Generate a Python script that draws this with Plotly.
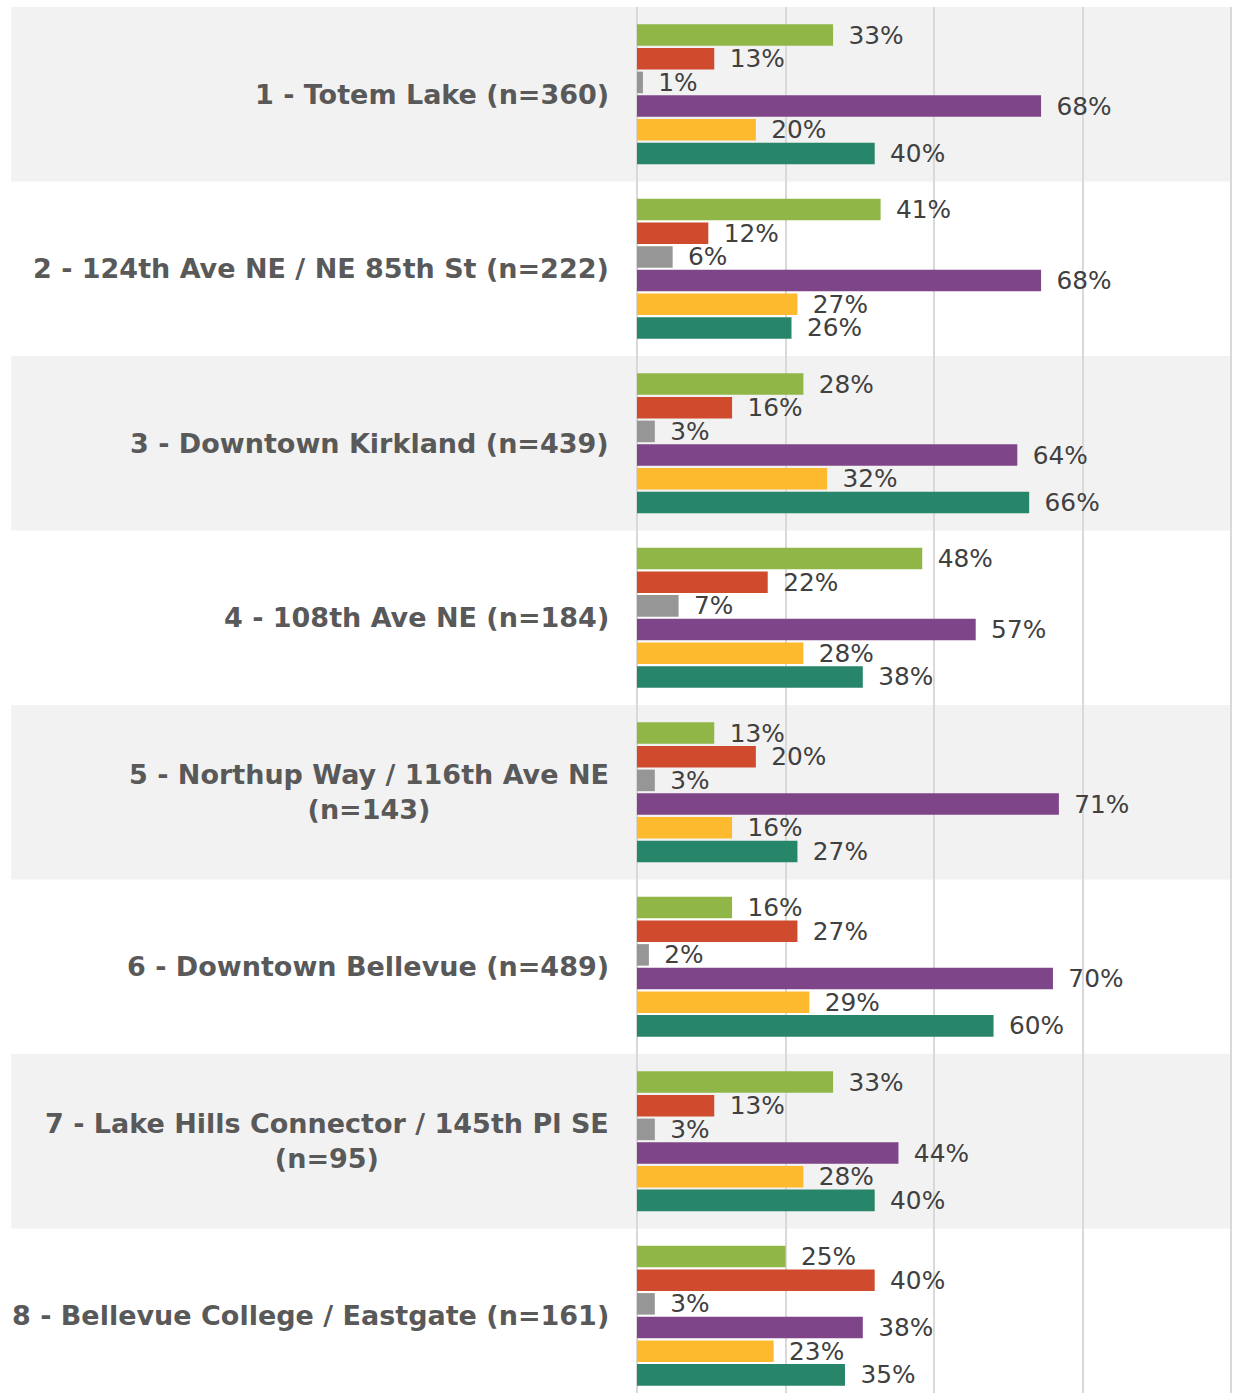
import plotly.graph_objects as go

# Categories (top to bottom)
sites = [
    "1 - Totem Lake (n=360)",
    "2 - 124th Ave NE / NE 85th St (n=222)",
    "3 - Downtown Kirkland (n=439)",
    "4 - 108th Ave NE (n=184)",
    "5 - Northup Way / 116th Ave NE<br>(n=143)",
    "6 - Downtown Bellevue (n=489)",
    "7 - Lake Hills Connector / 145th Pl SE<br>(n=95)",
    "8 - Bellevue College / Eastgate (n=161)",
]

# Series values (share of respondents)
s1 = [0.33, 0.41, 0.28, 0.48, 0.13, 0.16, 0.33, 0.25]
s2 = [0.13, 0.12, 0.16, 0.22, 0.20, 0.27, 0.13, 0.40]
s3 = [0.01, 0.06, 0.03, 0.07, 0.03, 0.02, 0.03, 0.03]
s4 = [0.68, 0.68, 0.64, 0.57, 0.71, 0.70, 0.44, 0.38]
s5 = [0.20, 0.27, 0.32, 0.28, 0.16, 0.29, 0.28, 0.23]
s6 = [0.40, 0.26, 0.66, 0.38, 0.27, 0.60, 0.40, 0.35]

series = [s1, s2, s3, s4, s5, s6]
names = ["Series 1", "Series 2", "Series 3", "Series 4", "Series 5", "Series 6"]
colors = ["#8FB646", "#D04A2D", "#969696", "#7E4689", "#FDBA2F", "#27856A"]

fig = go.Figure()

for vals, name, col in zip(series, names, colors):
    fig.add_trace(go.Bar(
        y=sites, x=vals, name=name, orientation="h",
        marker=dict(color=col, line=dict(width=0)),
        text=vals, texttemplate="\u2002%{x:.0%}",
        textposition="outside", constraintext="none", cliponaxis=False,
        textfont=dict(family="DejaVu Sans", size=24.8, color="#404040"),
    ))

# alternating background bands + category labels
for i, s in enumerate(sites):
    if i % 2 == 0:
        fig.add_shape(type="rect", xref="paper", yref="y",
                      x0=-1.05, x1=0.998, y0=i - 0.5, y1=i + 0.5,
                      fillcolor="#F2F2F2", line_width=0, layer="below")
    fig.add_annotation(x=-0.044, xref="paper", y=s, yref="y",
                       text="<b>" + s + "</b>", showarrow=False,
                       xanchor="right", align="center",
                       font=dict(family="DejaVu Sans", size=27, color="#595959"))

fig.update_layout(
    width=1235, height=1393,
    margin=dict(l=637, r=2, t=7, b=0),
    barmode="group", bargap=0.186, bargroupgap=0.09,
    plot_bgcolor="white", paper_bgcolor="white",
    showlegend=False,
    xaxis=dict(range=[0, 1.003], dtick=0.25, showgrid=True, gridcolor="#D9D9D9",
               gridwidth=2, showticklabels=False, zeroline=True,
               zerolinecolor="#D9D9D9", zerolinewidth=2, fixedrange=True),
    yaxis=dict(type="category", range=[7.443, -0.5], showticklabels=False,
               showgrid=False, fixedrange=True),
)

# drop the default 8px page margin so the figure sits at the window corner
fig.write_html("out.html", config={"displayModeBar": False},
               post_script="document.body.style.margin='0';")
